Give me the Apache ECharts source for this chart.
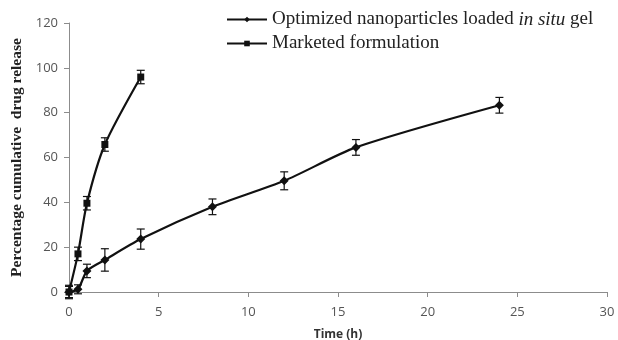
<!DOCTYPE html>
<html>
<head>
    <meta charset="utf-8">
    <title>Drug release</title>
    <script src="https://cdn.jsdelivr.net/npm/echarts@6/dist/echarts.min.js"></script>
</head>
<body style="margin:0">
    <div id="main" style="width: 618px; height:340px;"></div>

    <script type="text/javascript">
        // time points (h) and % cumulative release
        var gelTime = [0, 0.5, 1, 2, 4, 8, 12, 16, 24];
        var gelRelease = [0, 1.2, 9.4, 14.3, 23.6, 38, 49.6, 64.5, 83.3];
        var gelErr = [3, 2, 3, 5, 4.5, 3.5, 4, 3.5, 3.5];

        var mktTime = [0, 0.5, 1, 2, 4];
        var mktRelease = [0, 17, 39.6, 65.8, 95.9];
        var mktErr = [2.5, 3, 3, 3, 3];

        var gelName = 'Optimized nanoparticles loaded in situ gel';
        var mktName = 'Marketed formulation';

        function pairs(xs, ys) {
            return xs.map(function (x, i) { return [x, ys[i]]; });
        }
        function errRows(xs, ys, es) {
            return xs.map(function (x, i) { return [x, ys[i] - es[i], ys[i] + es[i]]; });
        }

        // draws the error bars (vertical line + caps)
        function errorBar(params, api) {
            var x = api.value(0);
            var lo = api.coord([x, api.value(1)]);
            var hi = api.coord([x, api.value(2)]);
            var w = 4;
            var st = { stroke: '#111', lineWidth: 1.2 };
            return {
                type: 'group',
                children: [
                    { type: 'line', shape: { x1: lo[0], y1: lo[1], x2: hi[0], y2: hi[1] }, style: st },
                    { type: 'line', shape: { x1: lo[0] - w, y1: lo[1], x2: lo[0] + w, y2: lo[1] }, style: st },
                    { type: 'line', shape: { x1: hi[0] - w, y1: hi[1], x2: hi[0] + w, y2: hi[1] }, style: st }
                ]
            };
        }

        var myChart = echarts.init(document.getElementById('main'));

        var option = {
            animation: false,
            backgroundColor: '#fff',
            grid: { left: 69, right: 11, top: 23, bottom: 48, outerBoundsMode: 'none', containLabel: false },
            legend: {
                data: [gelName, mktName],
                orient: 'vertical',
                left: 221,
                top: 5,
                itemWidth: 40,
                itemHeight: 7,
                itemGap: 5,
                formatter: function (name) {
                    if (name === gelName) {
                        return '{n|Optimized nanoparticles loaded }{i|in situ}{n| gel}';
                    }
                    return '{n|' + name + '}';
                },
                textStyle: {
                    rich: {
                        n: { fontFamily: 'Liberation Serif', fontSize: 19, color: '#222' },
                        i: { fontFamily: 'Liberation Serif', fontSize: 19, fontStyle: 'italic', color: '#222' }
                    }
                }
            },
            xAxis: {
                type: 'value',
                min: 0,
                max: 30,
                interval: 5,
                name: 'Time (h)',
                nameLocation: 'middle',
                nameGap: 37,
                nameTextStyle: { fontFamily: 'Open Sans', fontWeight: 'bold', fontSize: 12, color: '#333' },
                splitLine: { show: false },
                axisLine: { lineStyle: { color: '#8c8c8c' } },
                axisTick: { show: true, length: 5, lineStyle: { color: '#8c8c8c' } },
                axisLabel: { fontFamily: 'Open Sans', fontSize: 13, color: '#555', margin: 14 }
            },
            yAxis: {
                type: 'value',
                min: 0,
                max: 120,
                interval: 20,
                name: 'Percentage cumulative  drug release',
                nameLocation: 'middle',
                nameGap: 42,
                nameTextStyle: { fontFamily: 'Liberation Serif', fontWeight: 'bold', fontSize: 15.5, color: '#222' },
                splitLine: { show: false },
                axisLine: { show: true, lineStyle: { color: '#8c8c8c' } },
                axisTick: { show: true, length: 5, lineStyle: { color: '#8c8c8c' } },
                axisLabel: { fontFamily: 'Open Sans', fontSize: 13, color: '#555', margin: 11 }
            },
            series: [
                {
                    name: gelName,
                    type: 'line',
                    smooth: 0.25,
                    symbol: 'diamond',
                    symbolSize: 9,
                    itemStyle: { color: '#111' },
                    lineStyle: { color: '#111', width: 2.2 },
                    data: pairs(gelTime, gelRelease),
                    z: 3
                },
                {
                    name: mktName,
                    type: 'line',
                    smooth: 0.25,
                    symbol: 'rect',
                    symbolSize: 7,
                    itemStyle: { color: '#111' },
                    lineStyle: { color: '#111', width: 2.2 },
                    data: pairs(mktTime, mktRelease),
                    z: 3
                },
                {
                    type: 'custom',
                    renderItem: errorBar,
                    encode: { x: 0, y: [1, 2] },
                    data: errRows(gelTime, gelRelease, gelErr),
                    z: 4
                },
                {
                    type: 'custom',
                    renderItem: errorBar,
                    encode: { x: 0, y: [1, 2] },
                    data: errRows(mktTime, mktRelease, mktErr),
                    z: 4
                }
            ]
        };

        myChart.setOption(option);
    </script>
</body>
</html>
